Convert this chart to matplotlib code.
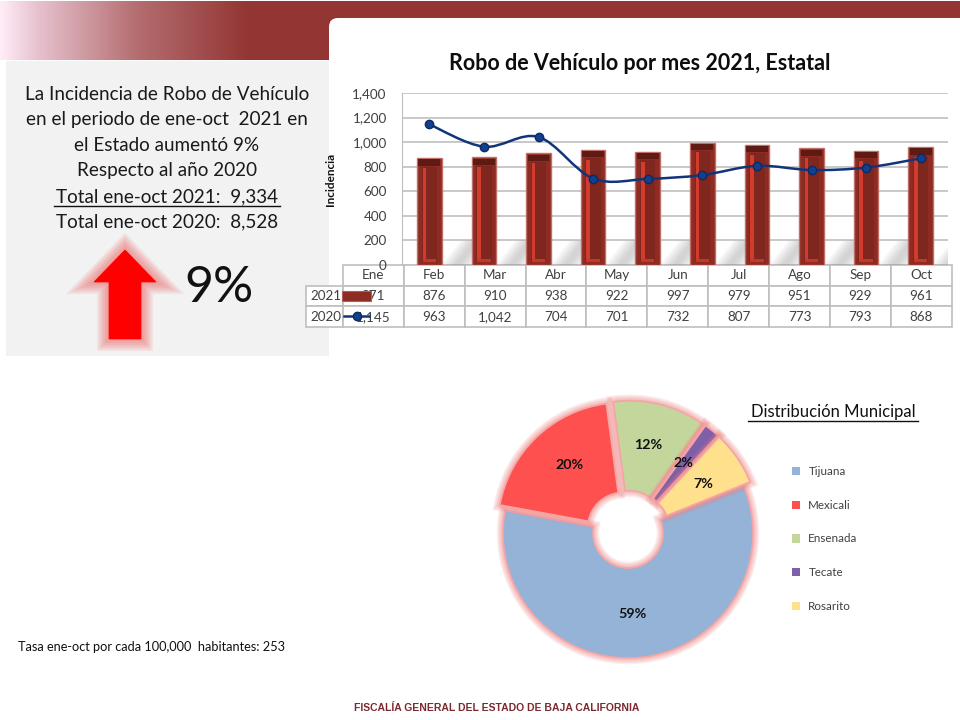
import matplotlib
matplotlib.use("Agg")
import matplotlib.pyplot as plt
import matplotlib.patheffects as pe
import numpy as np
from matplotlib.colors import LinearSegmentedColormap
from matplotlib.patches import FancyBboxPatch, Polygon, Rectangle, PathPatch
from matplotlib.path import Path
from matplotlib.lines import Line2D

# data
months = ["Ene", "Feb", "Mar", "Abr", "May", "Jun", "Jul", "Ago", "Sep", "Oct"]
vals_2021 = [871, 876, 910, 938, 922, 997, 979, 951, 929, 961]
vals_2020 = [1145, 963, 1042, 704, 701, 732, 807, 773, 793, 868]
yticks = [0, 200, 400, 600, 800, 1000, 1200, 1400]
municipios = ["Tijuana", "Mexicali", "Ensenada", "Tecate", "Rosarito"]
pie_vals = [59, 20, 12, 2, 7]
pie_colors = ["#95B3D7", "#FF5050", "#C3D69B", "#7F5FA8", "#FFE08C"]
intro_lines = [
    "La Incidencia de Robo de Vehículo",
    "en el periodo de ene-oct  2021 en",
    "el Estado aumentó 9%",
    "Respecto al año 2020",
    "Total ene-oct 2021:  9,334",
    "Total ene-oct 2020:  8,528",
]

W, H = 960, 720
plt.rcParams["font.family"] = ["Lato", "DejaVu Sans"]
fig = plt.figure(figsize=(9.6, 7.2), dpi=100)


def px_axes(left, top, right, bottom, **kw):
    return fig.add_axes([left / W, 1 - bottom / H, (right - left) / W, (bottom - top) / H], **kw)


def glow(color, width, steps=6, alpha=0.13):
    fx = [pe.Stroke(linewidth=width * (steps - i) / steps, foreground=color, alpha=alpha) for i in range(steps)]
    return fx + [pe.Normal()]


# page background, drawn in pixel coordinates
bg = fig.add_axes([0, 0, 1, 1], zorder=0)
bg.set_xlim(0, W)
bg.set_ylim(H, 0)
bg.axis("off")

band = LinearSegmentedColormap.from_list("band", [(0, "#FFEDF8"), (0.15, "#E6C2CE"), (0.55, "#B46D70"),
                                                  (1, "#933533")])
bg.imshow(np.linspace(0, 1, 256).reshape(1, -1), cmap=band, extent=(0, 250, 60, 1), aspect="auto", zorder=1)
bg.add_patch(Rectangle((250, 1), 710, 59, color="#933533", lw=0, zorder=1))
bg.set_xlim(0, W)
bg.set_ylim(H, 0)
bg.add_patch(FancyBboxPatch((337, 26), 700, 700, boxstyle="round,pad=8,rounding_size=9", fc="white", ec="none", zorder=2))
bg.add_patch(Rectangle((6, 61), 323, 295, fc="#F2F2F2", ec="none", zorder=3))

for i, line in enumerate(intro_lines):
    bg.text(167, 94 + i * 25.6, line, ha="center", va="center", fontsize=13.6, color="#1A1A1A", zorder=5)
bg.plot([54, 280], [205.5, 205.5], color="#111111", lw=1, zorder=5)

arrow = Polygon([(125, 250), (156, 282), (141, 282), (141, 339), (109, 339), (109, 282), (94, 282)],
                closed=True, fc="#FF0000", ec="#FF0000", lw=0.5, zorder=5)
arrow.set_path_effects(glow("#EE6060", 17))
bg.add_patch(arrow)
bg.text(219, 288, "9%", ha="center", va="center", fontsize=36, color="#111111", zorder=5)

bg.text(18, 647, "Tasa ene-oct por cada 100,000  habitantes: 253", ha="left", va="center", fontsize=9.2,
        color="#111111", zorder=5)
bg.text(497, 708, "FISCALÍA GENERAL DEL ESTADO DE BAJA CALIFORNIA", ha="center", va="center", fontsize=7.5,
        fontweight="bold", family=["Liberation Sans"], color="#7B2A30", zorder=5)

# bar + line chart
ax = px_axes(402, 93, 948, 265, zorder=2)
ax.patch.set_alpha(0)
x = np.arange(len(months))
ax.set_xlim(-0.5, len(months) - 0.5)
ax.set_ylim(0, 1400)
ax.set_yticks(yticks)
ax.set_yticklabels([f"{v:,}" for v in yticks], fontsize=9.7, color="#404040")
ax.set_xticks([])
ax.tick_params(axis="y", length=0, pad=11)
ax.grid(axis="y", color="#C4C4C4", lw=1.3, zorder=0)
ax.set_axisbelow(True)
for side in ["top", "right", "bottom"]:
    ax.spines[side].set_visible(False)
ax.spines["left"].set_color("#BFBFBF")
ax.set_ylabel("Incidencia", fontsize=8.5, fontweight="bold", color="#111111", labelpad=12)

# soft floor shadows behind each bar
bar_w = 0.45
for xi in x:
    for k in range(10):
        off = k * 0.035
        ax.add_patch(Polygon([(xi + bar_w / 2 + off, 0), (xi + bar_w / 2 + 0.27 + off, 0),
                              (xi + bar_w / 2 + 0.62 + off, 200), (xi + bar_w / 2 + 0.35 + off, 200)],
                             closed=True, fc="#909090", ec="none", alpha=0.055, zorder=1))

v21 = np.array(vals_2021)
ax.bar(x, v21, width=bar_w, color="#8E2B22", edgecolor="#C07068", lw=1, zorder=2)
# bevel: dark cap, lighter stripes
ax.bar(x, np.full(10, 50), bottom=v21 - 62, width=bar_w * 0.88, color="#5F1A14", zorder=3)
ax.bar(x, v21 - 95, bottom=25, width=bar_w * 0.62, color="#7F261E", zorder=3)
ax.bar(x - bar_w * 0.2, v21 - 110, bottom=30, width=bar_w * 0.14, color="#D23C2E", zorder=4)
ax.bar(x, np.full(10, 18), bottom=28, width=bar_w * 0.54, color="#C2392B", zorder=4)

# smooth 2020 line, bezier handles from neighbouring points
y20 = np.array(vals_2020, dtype=float)
verts = [(x[0], y20[0])]
codes = [Path.MOVETO]
for i in range(len(x) - 1):
    p0 = np.array([x[max(i - 1, 0)], y20[max(i - 1, 0)]])
    p1 = np.array([x[i], y20[i]])
    p2 = np.array([x[i + 1], y20[i + 1]])
    p3 = np.array([x[min(i + 2, 9)], y20[min(i + 2, 9)]])
    verts += [tuple(p1 + (p2 - p0) / 6), tuple(p2 - (p3 - p1) / 6), tuple(p2)]
    codes += [Path.CURVE4] * 3
ax.add_patch(PathPatch(Path(verts, codes), fc="none", ec="#12357A", lw=1.8, zorder=6))
ax.plot(x, vals_2020, ls="none", marker="o", ms=6, mfc="#12408C", mec="#0B2A66", zorder=7)

# data table under the axes
tbl = ax.table(cellText=[[str(v) for v in vals_2021], [f"{v:,}" for v in vals_2020]],
               colLabels=months, rowLabels=["2021", "2020"], rowLoc="right", cellLoc="center",
               colWidths=[0.1] * 10, bbox=[-0.1154, -62 / 172, 1.1154, 62 / 172])
tbl.auto_set_font_size(False)
tbl.set_fontsize(9.7)
for (r, c), cell in tbl.get_celld().items():
    cell.set_edgecolor("#BFBFBF")
    cell.set_linewidth(1.2)
    cell.get_text().set_color("#404040")
    if c == -1:
        cell.set_width(0.1154)
        cell.PAD = 0.03

# overlay for text and table legend keys
top = fig.add_axes([0, 0, 1, 1], zorder=5)
top.set_xlim(0, W)
top.set_ylim(H, 0)
top.axis("off")
top.text(640, 63, "Robo de Vehículo por mes 2021, Estatal", ha="center", va="center", fontsize=15.5,
         fontweight="bold", color="#0D0D0D")
top.add_patch(Rectangle((342, 291), 29, 10, fc="#8E2B22", ec="#B06058", lw=0.8))
top.add_line(Line2D([344, 369], [316, 316], color="#12357A", lw=1.8, marker="o", markevery=[0], ms=0))
top.plot([356.5], [316], marker="o", ms=6, mfc="#12408C", mec="#0B2A66")

# municipal donut
pie_ax = px_axes(478, 383, 778, 683, zorder=3)
wedges, _ = pie_ax.pie(pie_vals, colors=pie_colors, startangle=22, counterclock=False,
                       explode=[0, 0.06, 0.06, 0.06, 0.06], radius=1,
                       wedgeprops=dict(width=0.72, edgecolor="#F4A6A6", linewidth=1.2))
for w in wedges:
    w.set_path_effects(glow("#F08080", 9, steps=5, alpha=0.14))
pie_ax.set_xlim(-1.2, 1.2)
pie_ax.set_ylim(-1.2, 1.2)

label_pos = [(632, 614), (570, 465), (648, 445), (683, 463), (703, 484)]
for v, (lx, ly) in zip(pie_vals, label_pos):
    top.text(lx, ly, f"{v}%", ha="center", va="center", fontsize=10.3, fontweight="bold", color="#111111")

top.text(833, 412, "Distribución Municipal", ha="center", va="center", fontsize=12, color="#111111")
top.plot([748, 918], [421, 421], color="#111111", lw=1)

leg = top.legend(wedges, municipios, loc="upper left", bbox_to_anchor=(792 / W, 1 - 466 / H),
                 frameon=False, fontsize=8.4, labelcolor="#404040", handlelength=0.7, handleheight=0.7,
                 handletextpad=0.7, labelspacing=1.95, borderpad=0, borderaxespad=0)
for h in leg.legend_handles:
    h.set_path_effects([])
    h.set_edgecolor("none")

fig.savefig("out.png", dpi=100)
